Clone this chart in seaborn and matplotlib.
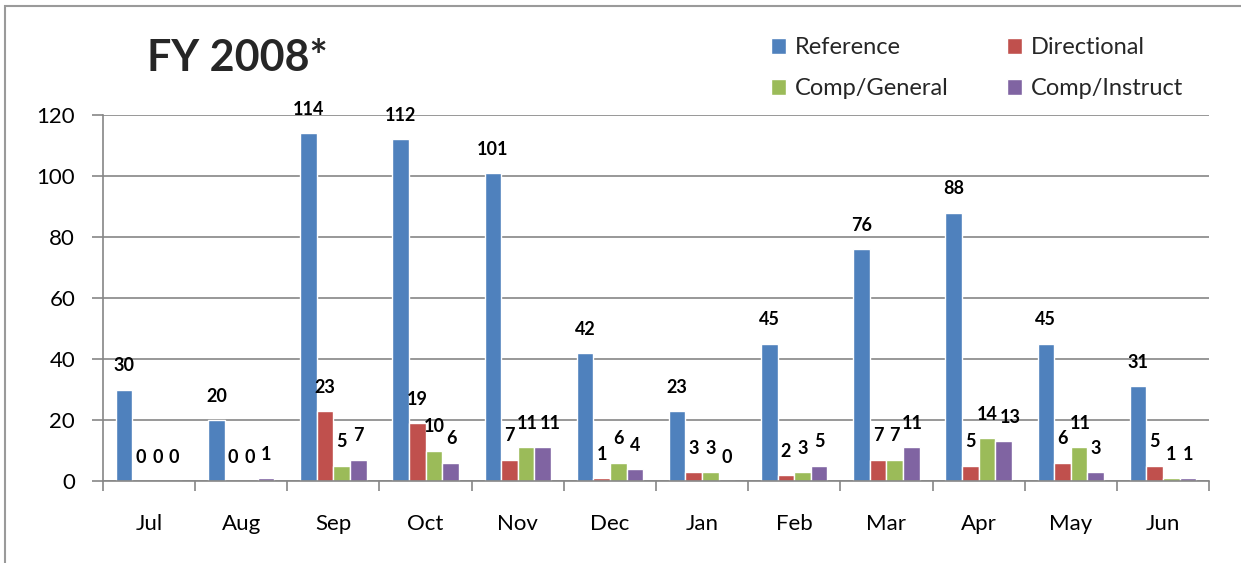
import matplotlib
matplotlib.use("Agg")
import matplotlib.pyplot as plt
import seaborn as sns
import pandas as pd
from matplotlib.patches import Rectangle

months = ["Jul", "Aug", "Sep", "Oct", "Nov", "Dec", "Jan", "Feb", "Mar", "Apr", "May", "Jun"]
series = ["Reference", "Directional", "Comp/General", "Comp/Instruct"]
reference = [30, 20, 114, 112, 101, 42, 23, 45, 76, 88, 45, 31]
directional = [0, 0, 23, 19, 7, 1, 3, 2, 7, 5, 6, 5]
comp_general = [0, 0, 5, 10, 11, 6, 3, 3, 7, 14, 11, 1]
comp_instruct = [0, 1, 7, 6, 11, 4, 0, 5, 11, 13, 3, 1]
colors = ["#4F81BD", "#C0504D", "#9BBB59", "#8064A2"]

df = pd.DataFrame({
    "month": months * 4,
    "series": [s for s in series for _ in months],
    "count": reference + directional + comp_general + comp_instruct,
})

sns.set_theme(style="white")
plt.rcParams["font.family"] = ["Lato", "DejaVu Sans"]
grid_c = "#868686"
W, H = 1241, 563

fig = plt.figure(figsize=(W / 100, H / 100), dpi=100)
ax = fig.add_axes([103 / W, 1 - 481 / H, (1209 - 103) / W, 366 / H])

sns.barplot(data=df, x="month", y="count", hue="series", hue_order=series,
            order=months, palette=colors, width=0.72, saturation=1,
            ax=ax, legend=True)

# data labels, nudged right where neighbours would collide (like Excel does)
label_sets = []
for c in ax.containers:
    label_sets.append(ax.bar_label(c, padding=11, fontsize=13, fontweight="bold",
                                   color="black"))

ax.set_ylim(0, 120)
ax.set_xlim(-0.5, 11.5)
ax.set_yticks(range(0, 121, 20))
ax.set_xticks([i - 0.5 for i in range(13)], minor=True)
ax.yaxis.grid(True, color=grid_c, linewidth=1.2)
ax.set_axisbelow(True)
ax.set_xlabel("")
ax.set_ylabel("")
for side in ["top", "right"]:
    ax.spines[side].set_visible(False)
for side in ["left", "bottom"]:
    ax.spines[side].set_color(grid_c)
    ax.spines[side].set_linewidth(1.2)
ax.tick_params(axis="y", which="major", left=True, length=8, width=1.2,
               color=grid_c, pad=12, labelsize=16, labelcolor="black")
ax.tick_params(axis="x", which="major", bottom=False, length=0, pad=24,
               labelsize=16, labelcolor="black")
ax.tick_params(axis="x", which="minor", bottom=True, length=7, width=1.2,
               color=grid_c)

fig.canvas.draw()
renderer = fig.canvas.get_renderer()
for m in range(len(months)):
    prev = None
    for s in range(1, len(series)):
        t = label_sets[s][m]
        bb = t.get_window_extent(renderer)
        if prev is not None:
            overlap_x = prev.x1 + 2 - bb.x0
            overlap_y = min(prev.y1, bb.y1) - max(prev.y0, bb.y0)
            if overlap_x > 0 and overlap_y > 0:
                dx = overlap_x * 72 / fig.dpi
                ox, oy = t.xyann
                t.xyann = (ox + dx, oy)
                fig.canvas.draw()
                bb = t.get_window_extent(renderer)
        prev = bb

handles, labels = ax.get_legend_handles_labels()
ax.get_legend().remove()
leg_kw = dict(loc="center left", bbox_transform=fig.transFigure, frameon=False,
              fontsize=17, handlelength=0.65, handleheight=0.65,
              handletextpad=0.35, labelspacing=0.85, borderpad=0, borderaxespad=0)
leg1 = fig.legend([handles[0], handles[2]], [labels[0], labels[2]],
                  bbox_to_anchor=(771 / W, 1 - 68 / H), **leg_kw)
leg2 = fig.legend([handles[1], handles[3]], [labels[1], labels[3]],
                  bbox_to_anchor=(1007 / W, 1 - 68 / H), **leg_kw)

fig.text(147 / W, 1 - 71 / H, "FY 2008*", fontsize=31, fontweight="bold",
         va="baseline", ha="left")

fig.patches.append(Rectangle((5 / W, -0.1), 1.2, 1 - 6 / H + 0.1,
                             transform=fig.transFigure, fill=False,
                             edgecolor="#9a9a9a", linewidth=1.5))

fig.savefig("out.png", dpi=100)
